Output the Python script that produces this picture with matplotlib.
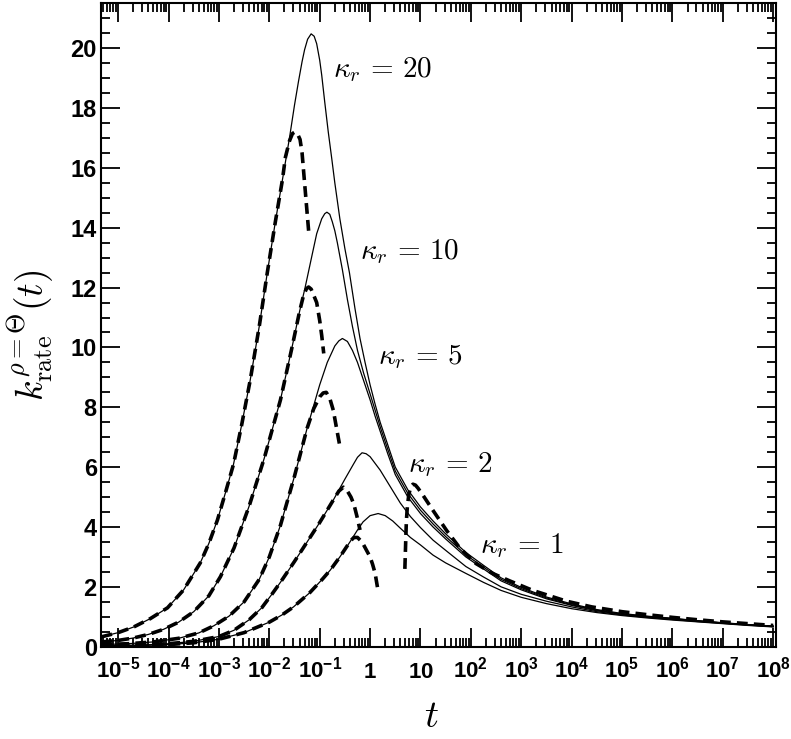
import matplotlib
matplotlib.use("Agg")
import matplotlib.pyplot as plt
import matplotlib.ticker as mticker
import numpy as np

# --- data (log10 t, k_rate) ---
lt_k20 = [-5.33, -5.0, -4.69, -4.36, -4.02, -3.7, -3.37, -3.2, -3.03, -2.87,
          -2.71, -2.55, -2.38, -2.2, -2.04, -1.88, -1.74, -1.6, -1.5, -1.42,
          -1.35, -1.3, -1.24, -1.17, -1.11, -1.06, -1.0, -0.96, -0.9, -0.83,
          -0.76, -0.7, -0.6, -0.5, -0.41, -0.3, -0.2, -0.1, 0.0, 0.1,
          0.2, 0.35, 0.5, 0.75, 1.0, 1.25, 1.5, 1.9, 2.25, 2.6,
          3.0, 3.5, 4.0, 4.5, 5.0, 5.5, 6.0, 6.5, 7.0, 7.5, 8.0]
k20 = [0.33, 0.47, 0.66, 0.94, 1.3, 1.9, 2.8, 3.45, 4.23, 5.15,
       6.1, 7.4, 8.9, 10.7, 12.5, 14.2, 15.6, 17.0, 18.1, 18.9,
       19.55, 19.95, 20.3, 20.48, 20.4, 20.15, 19.6, 19.1, 18.2, 17.2,
       16.3, 15.5, 14.3, 13.3, 12.5, 11.3, 10.3, 9.5, 8.75, 8.1,
       7.5, 6.75, 6.0, 5.24, 4.67, 4.2, 3.77, 3.15, 2.72, 2.3,
       1.98, 1.66, 1.43, 1.24, 1.11, 1.02, 0.95, 0.87, 0.8, 0.74, 0.69]

lt_k10 = [-5.33, -5.0, -4.7, -4.4, -4.1, -3.8, -3.5, -3.2, -2.97, -2.7,
          -2.4, -2.1, -1.78, -1.55, -1.4, -1.29, -1.15, -1.06, -0.96, -0.9,
          -0.857, -0.8, -0.75, -0.7, -0.65, -0.55, -0.45, -0.35, -0.25, -0.13,
          0.0, 0.1, 0.2, 0.35, 0.5, 0.75, 1.0, 1.25, 1.5, 1.9,
          2.25, 2.6, 3.0, 3.5, 4.0, 4.5, 5.0, 5.5, 6.0, 6.5, 7.0, 7.5, 8.0]
k10 = [0.16, 0.21, 0.29, 0.41, 0.58, 0.82, 1.17, 1.7, 2.34, 3.3,
       4.7, 6.3, 8.24, 10.0, 11.2, 12.0, 13.1, 13.8, 14.3, 14.47,
       14.52, 14.45, 14.2, 13.9, 13.5, 12.6, 11.6, 10.7, 9.9, 9.15,
       8.45, 7.9, 7.35, 6.6, 5.87, 5.12, 4.56, 4.1, 3.68, 3.07,
       2.66, 2.25, 1.94, 1.63, 1.4, 1.22, 1.09, 1.01, 0.94, 0.865, 0.795, 0.735, 0.685]

lt_k5 = [-5.33, -4.8, -4.3, -3.8, -3.4, -3.1, -2.8, -2.5, -2.2, -2.0,
         -1.78, -1.5, -1.25, -1.0, -0.85, -0.7, -0.62, -0.55, -0.45, -0.35,
         -0.25, -0.13, 0.0, 0.1, 0.2, 0.35, 0.5, 0.75, 1.0, 1.25,
         1.5, 1.9, 2.25, 2.6, 3.0, 3.5, 4.0, 4.5, 5.0, 5.5,
         6.0, 6.5, 7.0, 7.5, 8.0]
k5 = [0.07, 0.1, 0.16, 0.28, 0.46, 0.7, 1.02, 1.5, 2.25, 3.0,
      4.05, 5.7, 7.3, 8.75, 9.5, 10.05, 10.22, 10.3, 10.2, 9.9,
      9.5, 8.9, 8.25, 7.7, 7.2, 6.45, 5.75, 5.0, 4.45, 4.0,
      3.6, 3.0, 2.6, 2.2, 1.9, 1.6, 1.38, 1.2, 1.08, 1.0,
      0.93, 0.86, 0.79, 0.73, 0.68]

lt_k2 = [-5.33, -4.5, -4.0, -3.5, -3.0, -2.7, -2.4, -2.15, -1.95, -1.78,
         -1.5, -1.25, -1.0, -0.73, -0.5, -0.33, -0.25, -0.16, -0.08, 0.0,
         0.2, 0.4, 0.6, 0.8, 1.0, 1.25, 1.5, 1.9, 2.25, 2.6,
         3.0, 3.5, 4.0, 4.5, 5.0, 5.5, 6.0, 6.5, 7.0, 7.5, 8.0]
k2 = [0.03, 0.06, 0.1, 0.18, 0.34, 0.55, 0.9, 1.3, 1.75, 2.15,
      2.85, 3.5, 4.15, 4.9, 5.6, 6.1, 6.33, 6.48, 6.45, 6.35,
      5.9, 5.35, 4.8, 4.35, 3.98, 3.56, 3.22, 2.68, 2.33, 2.0,
      1.75, 1.52, 1.33, 1.17, 1.06, 0.98, 0.91, 0.84, 0.78, 0.72, 0.67]

lt_k1 = [-5.33, -4.5, -4.0, -3.5, -3.0, -2.5, -2.0, -1.75, -1.52, -1.2,
         -0.95, -0.79, -0.6, -0.4, -0.25, -0.14, 0.0, 0.16, 0.3, 0.45,
         0.6, 0.8, 1.0, 1.25, 1.5, 1.9, 2.25, 2.6, 3.0, 3.5,
         4.0, 4.5, 5.0, 5.5, 6.0, 6.5, 7.0, 7.5, 8.0]
k1 = [0.02, 0.04, 0.07, 0.13, 0.25, 0.47, 0.82, 1.06, 1.33, 1.8,
      2.25, 2.56, 3.0, 3.5, 3.9, 4.17, 4.38, 4.45, 4.38, 4.2,
      3.96, 3.65, 3.4, 3.06, 2.8, 2.45, 2.15, 1.88, 1.65, 1.44,
      1.27, 1.14, 1.04, 0.96, 0.89, 0.83, 0.77, 0.71, 0.66]

# short-time approximations (dashed)
lt_s20 = [-5.33, -5.0, -4.69, -4.36, -4.02, -3.7, -3.37, -3.2, -3.03, -2.87,
          -2.71, -2.55, -2.38, -2.2, -2.04, -1.88, -1.74, -1.68, -1.6, -1.54,
          -1.49, -1.43, -1.39, -1.35, -1.32, -1.27, -1.22]
s20 = [0.33, 0.47, 0.66, 0.94, 1.3, 1.9, 2.8, 3.45, 4.23, 5.15,
       6.1, 7.4, 8.9, 10.7, 12.5, 14.2, 15.6, 16.36, 16.9, 17.15,
       17.2, 17.1, 16.95, 16.5, 15.9, 14.9, 13.9]

lt_s10 = [-5.33, -5.0, -4.7, -4.4, -4.1, -3.8, -3.5, -3.2, -2.97, -2.7,
          -2.4, -2.1, -1.78, -1.55, -1.4, -1.32, -1.26, -1.22, -1.17, -1.12,
          -1.06, -1.0, -0.96, -0.92]
s10 = [0.16, 0.21, 0.29, 0.41, 0.58, 0.82, 1.17, 1.7, 2.34, 3.3,
       4.7, 6.3, 8.24, 10.0, 11.2, 11.75, 11.97, 12.02, 11.95, 11.75,
       11.5, 10.9, 10.4, 9.8]

lt_s5 = [-5.33, -4.8, -4.3, -3.8, -3.4, -3.1, -2.8, -2.5, -2.2, -2.0,
         -1.78, -1.5, -1.25, -1.12, -1.0, -0.93, -0.87, -0.8, -0.73, -0.66, -0.6]
s5 = [0.07, 0.1, 0.16, 0.28, 0.46, 0.7, 1.02, 1.5, 2.25, 3.0,
      4.05, 5.7, 7.3, 7.95, 8.35, 8.48, 8.5, 8.3, 7.9, 7.25, 6.7]

lt_s2 = [-5.33, -4.5, -4.0, -3.5, -3.0, -2.7, -2.4, -2.15, -1.95, -1.78,
         -1.5, -1.25, -1.0, -0.73, -0.62, -0.53, -0.45, -0.38, -0.32, -0.26, -0.2]
s2 = [0.03, 0.06, 0.1, 0.18, 0.34, 0.55, 0.9, 1.3, 1.75, 2.15,
      2.85, 3.5, 4.15, 4.9, 5.2, 5.33, 5.2, 5.0, 4.75, 4.35, 3.9]

lt_s1 = [-5.33, -4.5, -4.0, -3.5, -3.0, -2.5, -2.0, -1.75, -1.52, -1.2,
         -0.95, -0.79, -0.6, -0.45, -0.38, -0.32, -0.25, -0.16, -0.08, 0.0,
         0.05, 0.1, 0.15]
s1 = [0.02, 0.04, 0.07, 0.13, 0.25, 0.47, 0.82, 1.06, 1.33, 1.8,
      2.25, 2.56, 3.0, 3.38, 3.55, 3.65, 3.65, 3.5, 3.25, 3.0,
      2.75, 2.45, 1.95]

# long-time approximation (dashed)
lt_long = [0.69, 0.7, 0.71, 0.72, 0.74, 0.77, 0.81, 0.85, 0.9, 0.95,
           1.05, 1.25, 1.52, 1.78, 2.1, 2.43, 2.77, 3.23, 3.9, 4.4,
           5.0, 5.5, 6.0, 6.5, 7.0, 7.5, 8.0]
k_long = [2.6, 3.15, 3.7, 4.2, 4.7, 5.1, 5.35, 5.43, 5.4, 5.3,
          5.06, 4.55, 3.88, 3.3, 2.78, 2.45, 2.2, 1.88, 1.52, 1.33,
          1.17, 1.07, 0.98, 0.9, 0.83, 0.77, 0.71]

kappa_labels = ["20", "10", "5", "2", "1"]
label_lt = [-0.73, -0.2, 0.16, 0.76, 2.18]
label_k = [19.03, 12.97, 9.46, 5.84, 3.12]

plt.rcParams["mathtext.fontset"] = "custom"
plt.rcParams["mathtext.rm"] = "Liberation Sans:bold"
plt.rcParams["mathtext.bf"] = "Liberation Sans:bold"
plt.rcParams["mathtext.it"] = "Liberation Sans:bold:italic"
plt.rcParams["mathtext.sf"] = "Liberation Sans:bold"

fig = plt.figure(figsize=(7.91, 7.39), dpi=100)
ax = fig.add_axes([0.1277, 0.1249, 0.853, 0.8706])

for lt, k in [(lt_k20, k20), (lt_k10, k10), (lt_k5, k5), (lt_k2, k2), (lt_k1, k1)]:
    ax.plot(10.0 ** np.array(lt), k, color="black", lw=0.9, zorder=2)

dash = dict(color="black", lw=2.6, linestyle=(0, (3.0, 1.7)), zorder=3)
for lt, k in [(lt_s20, s20), (lt_s10, s10), (lt_s5, s5), (lt_s2, s2), (lt_s1, s1)]:
    ax.plot(10.0 ** np.array(lt), k, **dash)
ax.plot(10.0 ** np.array(lt_long), k_long, **dash)

for lab, lt, k in zip(kappa_labels, label_lt, label_k):
    ax.text(10.0 ** lt, k, r"$\kappa_r\,=\,%s$" % lab, fontsize=21,
            math_fontfamily="cm", ha="left", va="baseline")

ax.set_xscale("log")
ax.set_xlim(10 ** -5.34, 10 ** 8.05)
ax.set_ylim(0, 21.5)

ax.xaxis.set_major_locator(mticker.LogLocator(base=10, numticks=30))
ax.xaxis.set_minor_locator(mticker.LogLocator(base=10, subs=np.arange(2, 10), numticks=30))
ax.xaxis.set_major_formatter(mticker.NullFormatter())
ax.xaxis.set_minor_formatter(mticker.NullFormatter())
ax.yaxis.set_major_locator(mticker.MultipleLocator(2))
ax.yaxis.set_minor_locator(mticker.MultipleLocator(0.5))

ax.tick_params(which="both", direction="in", top=True, right=True, width=1.3)
ax.tick_params(which="major", length=13.5)
ax.tick_params(which="minor", length=6.5)
ax.tick_params(axis="y", labelsize=17, pad=3)
for lab in ax.get_yticklabels():
    lab.set_fontfamily("Liberation Sans")
    lab.set_fontweight("bold")
for s in ax.spines.values():
    s.set_linewidth(1.5)

# x tick labels, aligned on a common baseline
xt_exp = list(range(-5, 9))
for e in xt_exp:
    if e == 0:
        txt = r"$1$"
    elif e == 1:
        txt = r"$10$"
    else:
        txt = r"$10^{%d}$" % e
    ax.text(10.0 ** e, -0.048, txt, transform=ax.get_xaxis_transform(),
            ha="center", va="baseline", fontsize=16)

ax.text(0.49, -0.108, r"$t$", transform=ax.transAxes, fontsize=28,
        math_fontfamily="cm", ha="center", va="center")
fig.text(0.037, 0.546, r"$k_{\rm rate}^{\rho=\Theta}(t)$", fontsize=27,
         math_fontfamily="cm", rotation=90, ha="center", va="center")

fig.savefig("out.png", dpi=100)
